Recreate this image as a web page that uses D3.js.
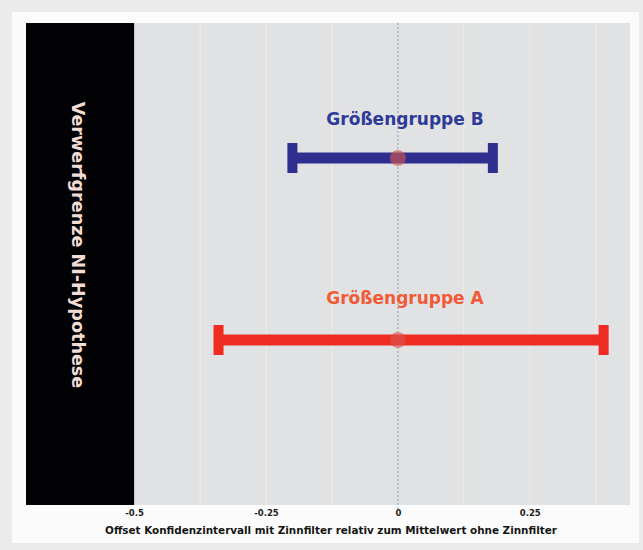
<!DOCTYPE html>
<html>
<head>
<meta charset="utf-8">
<script src="https://cdn.jsdelivr.net/npm/d3@7"></script>
<style>
  html, body { margin: 0; padding: 0; background: #ebebeb; }
  svg { display: block; }
</style>
</head>
<body>
<div id="chart"></div>
<script>
// Confidence intervals of the offset (with tin filter vs. mean without)
const groups = ["Größengruppe B", "Größengruppe A"];
const lowerBound = [-0.2, -0.34];
const upperBound = [0.18, 0.39];
const meanOffset = [0, 0];
const groupColors = ["#2f2f8f", "#ee2c22"];
const labelColors = ["#2d3a98", "#f25a37"];
const tickValues = [-0.5, -0.25, 0, 0.25];
const tickLabels = ["-0.5", "-0.25", "0", "0.25"];
const gridValues = [-0.375, -0.25, -0.125, 0.125, 0.25, 0.375];
const rejectionLimit = -0.5;
const xDomain = [-0.705, 0.44];
const yAxisTitle = "Verwerfgrenze NI-Hypothese";
const xAxisTitle = "Offset Konfidenzintervall mit Zinnfilter relativ zum Mittelwert ohne Zinnfilter";

const W = 643, H = 550;
const plot = { left: 26, right: 630, top: 23, bottom: 505 };

const svg = d3.select("#chart").append("svg")
  .attr("width", W).attr("height", H);

// page and card
svg.append("rect").attr("width", W).attr("height", H).attr("fill", "#ebebeb");
svg.append("rect").attr("x", 12).attr("y", 12).attr("width", 627).attr("height", 531)
  .attr("fill", "#fbfbfb");

const x = d3.scaleLinear().domain(xDomain).range([plot.left, plot.right]);
const y = d3.scalePoint().domain(groups).range([158, 340]);

// plot background and the rejection region
svg.append("rect")
  .attr("x", x(rejectionLimit)).attr("y", plot.top)
  .attr("width", x(xDomain[1]) - x(rejectionLimit))
  .attr("height", plot.bottom - plot.top)
  .attr("fill", "#e1e2e3");

svg.append("rect")
  .attr("x", x(xDomain[0])).attr("y", plot.top)
  .attr("width", x(rejectionLimit) - x(xDomain[0]))
  .attr("height", plot.bottom - plot.top)
  .attr("fill", "#020204");

// vertical grid lines
svg.append("g").selectAll("line").data(gridValues).join("line")
  .attr("x1", d => x(d)).attr("x2", d => x(d))
  .attr("y1", plot.top).attr("y2", plot.bottom)
  .attr("stroke", "#efedea").attr("stroke-width", 1);

// zero reference line
svg.append("line")
  .attr("x1", x(0)).attr("x2", x(0))
  .attr("y1", plot.top).attr("y2", plot.bottom + 4)
  .attr("stroke", "#8d9cb3").attr("stroke-width", 1)
  .attr("stroke-dasharray", "2,2");

// x axis (labels only)
const xAxis = d3.axisBottom(x)
  .tickValues(tickValues)
  .tickFormat((d, i) => tickLabels[i])
  .tickSize(0).tickPadding(5);
const gx = svg.append("g").attr("transform", `translate(0,${plot.bottom})`).call(xAxis);
gx.select(".domain").remove();
gx.selectAll("text")
  .attr("font-family", "DejaVu Sans").attr("font-weight", "bold")
  .attr("font-size", 8.5).attr("fill", "#1e1e1e");

svg.append("text")
  .attr("x", 331).attr("y", 534)
  .attr("text-anchor", "middle")
  .attr("font-family", "DejaVu Sans").attr("font-weight", "bold")
  .attr("font-size", 10.4).attr("fill", "#141414")
  .text(xAxisTitle);

// rotated title inside the rejection region
svg.append("text")
  .attr("transform", `translate(78,245) rotate(90)`)
  .attr("text-anchor", "middle").attr("dominant-baseline", "central")
  .attr("font-family", "DejaVu Sans").attr("font-weight", "bold")
  .attr("font-size", 17.6).attr("fill", "#f2dcd4")
  .text(yAxisTitle);

// interval bars
const rows = groups.map((g, i) => ({
  group: g, lo: lowerBound[i], hi: upperBound[i], mean: meanOffset[i],
  color: groupColors[i], labelColor: labelColors[i]
}));

const gRows = svg.append("g").selectAll("g").data(rows).join("g");

gRows.append("line")
  .attr("x1", d => x(d.lo)).attr("x2", d => x(d.hi))
  .attr("y1", d => y(d.group)).attr("y2", d => y(d.group))
  .attr("stroke", d => d.color).attr("stroke-width", 11);

gRows.selectAll("rect.cap").data(d => [d.lo, d.hi].map(v => ({ v, d }))).join("rect")
  .attr("class", "cap")
  .attr("x", c => x(c.v) - 5).attr("y", c => y(c.d.group) - 15)
  .attr("width", 10).attr("height", 30)
  .attr("fill", c => c.d.color);

gRows.append("circle")
  .attr("cx", d => x(d.mean)).attr("cy", d => y(d.group))
  .attr("r", 8)
  .attr("fill", "#d9574f").attr("fill-opacity", 0.62);

gRows.append("text")
  .attr("x", 405).attr("y", (d, i) => y(d.group) - (i === 0 ? 39 : 42))
  .attr("text-anchor", "middle").attr("dominant-baseline", "central")
  .attr("font-family", "DejaVu Sans").attr("font-weight", "bold")
  .attr("font-size", 17).attr("fill", d => d.labelColor)
  .text(d => d.group);
</script>
</body>
</html>
